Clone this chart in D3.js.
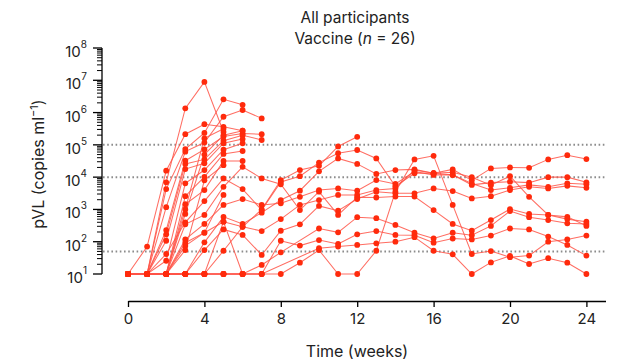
<!DOCTYPE html>
<html>
<head>
<meta charset="utf-8">
<script src="https://cdn.jsdelivr.net/npm/d3@7"></script>
<style>
  body { margin: 0; background: #fff; }
  svg { font-family: Inter, "Noto Sans", sans-serif; }
</style>
</head>
<body>
<svg id="chart" width="626" height="363"></svg>
<script>
// weeks since first vaccination
const weeks = d3.range(0, 25);

// log10 pVL (copies/ml) per participant, one value per week, null = no sample
// 10 copies/ml (1) is the detection limit
const longTerm = [
  [1,1,1,1,1,1,1,1,1,1.35,1.74,1,1,1.72,3.55,4.55,4.66,3.14,1.62,1.71,1.52,1.57,2.0,2.07,2.19],
  [1,1,1,1,1.98,2.77,2.55,2.90,3.29,3.58,4.18,4.58,4.41,4.10,4.22,4.24,4.12,4.24,3.9,4.27,4.30,4.29,4.55,4.68,4.56],
  [1,1,1,2.07,2.55,3.14,3.32,3.14,3.19,3.39,3.60,3.65,3.58,3.91,3.79,4.17,4.07,4.07,3.76,3.83,3.86,3.83,4.0,4.0,3.84],
  [1,1,1.62,2.60,3.26,3.96,3.63,2.98,3.85,4.03,4.45,4.74,4.84,4.58,3.72,4.12,4.12,4.15,4.0,3.75,4.03,3.39,2.83,2.77,2.49],
  [1,1,1,1,1.74,2.38,2.21,1.59,2.34,2.54,3.11,2.96,3.32,3.55,3.50,3.50,3.65,3.57,3.34,3.41,3.60,3.70,3.65,3.73,3.67],
  [1,1,1,2.54,2.83,3.70,4.32,3.96,3.78,2.98,3.55,2.83,3.38,3.37,3.40,3.40,2.98,2.55,2.34,2.67,3.01,2.86,2.83,2.70,2.62],
  [1,1,1,1,1,1,1,1.28,1.67,null,2.41,2.29,2.76,2.73,2.52,2.28,2.10,2.28,2.20,2.49,2.95,2.76,2.67,2.57,2.55],
  [1,1,1,1,1,1,1,1,2.03,1.88,2.05,1.93,2.23,2.33,2.21,2.20,1.97,2.10,2.07,2.19,2.41,2.38,2.16,1.90,1.57],
  [1,1,1,1,1,1,1,1,null,null,1.80,1.85,1.90,1.95,2.0,2.14,1.72,1.61,1.0,1.36,1.56,1.31,1.49,1.35,1.0],
  [1,1,1,1.87,2.28,2.62,2.46,2.33,2.70,3.14,3.29,3.45,3.45,3.60,3.65,4.22,4.12,4.07,3.80,3.60,3.67,3.76,3.70,3.81,3.78]
];

const shortTerm = [
  [1,1,1,1,1,1.72,2.46,3.0,3.91,4.22,4.35,4.95,5.25],
  [1,1.85,4.2,5.33,5.64,5.56,5.44],
  [1,1,3.84,6.13,6.95,5.4],
  [1,1,3.63,4.87,5.37,6.41,6.24],
  [1,1,3.07,4.79,5.07,5.87,6.08,5.82],
  [1,1,2.36,4.51,4.86,5.26,5.35,5.33],
  [1,1,2.23,4.41,4.55,5.13,5.30,5.15],
  [1,1,2.03,4.25,4.43,5.05,5.18],
  [1,1,1.41,3.81,4.22,4.85,5.05],
  [1,1,1,3.41,4.01,4.72,4.81],
  [1,1,1,3.16,3.60,4.50,4.50],
  [1,1,1,3.0,5.2,5.5],
  [1,1,1,2.86,4.7,5.3,5.44],
  [1,1,1,1.97,2.28,3.45],
  [1,1,1,1.74,3.9,4.37],
  [1,1,1,1,1,2.62,1]
];

const yTicks = [1e1, 1e2, 1e3, 1e4, 1e5, 1e6, 1e7, 1e8];
const xTicks = [0, 4, 8, 12, 16, 20, 24];
const thresholds = [1e5, 1e4, 50];

const svg = d3.select('#chart');

const x = d3.scaleLinear().domain([0, 25]).range([128, 605.5]);
const y = d3.scaleLog().domain([10, 1e8]).range([274, 48]);

// dotted reference lines
svg.selectAll('.thr').data(thresholds).enter().append('line')
  .attr('x1', 103).attr('x2', 606)
  .attr('y1', d => y(d)).attr('y2', d => y(d))
  .attr('stroke', '#8c8c8c').attr('stroke-width', 2)
  .attr('stroke-dasharray', '1.6,2.6');

// y axis with minor ticks
const minor = [];
for (let e = 1; e < 8; e++) for (let m = 2; m <= 9; m++) minor.push(m * Math.pow(10, e));
const yAxis = svg.append('g').attr('transform', 'translate(102,0)');
yAxis.append('line').attr('y1', y(1e8)).attr('y2', y(10)).attr('stroke', '#000').attr('stroke-width', 1.3);
yAxis.selectAll('.minor').data(minor).enter().append('line')
  .attr('x1', -5).attr('x2', 0).attr('y1', d => y(d)).attr('y2', d => y(d))
  .attr('stroke', '#000').attr('stroke-width', 1);
yAxis.selectAll('.major').data(yTicks).enter().append('line')
  .attr('x1', -9).attr('x2', 0).attr('y1', d => y(d)).attr('y2', d => y(d))
  .attr('stroke', '#000').attr('stroke-width', 1.3);
const lab = yAxis.selectAll('.lab').data(yTicks).enter().append('text')
  .attr('x', -15).attr('y', d => y(d) + 9)
  .attr('text-anchor', 'end').attr('font-size', 15).attr('fill', '#222');
lab.append('tspan').text('10');
lab.append('tspan').attr('dy', -9).attr('font-size', 10).text(d => Math.round(Math.log10(d)));

// x axis
const xAxis = svg.append('g').attr('transform', 'translate(0,301)')
  .call(d3.axisBottom(x).tickValues(xTicks).tickSize(6).tickPadding(6).tickSizeOuter(0));
xAxis.select('.domain').attr('stroke-width', 1.3);
xAxis.selectAll('.tick line').attr('stroke-width', 1.3);
xAxis.selectAll('text').attr('font-size', 15).attr('fill', '#222').attr('font-family', 'Inter, sans-serif');

// participant trajectories
const all = longTerm.concat(shortTerm).map(s => s.map((v, i) => ({ week: weeks[i], v: v })).filter(d => d.v !== null));
const line = d3.line().x(d => x(d.week)).y(d => y(Math.pow(10, d.v)));

svg.selectAll('.traj').data(all).enter().append('path')
  .attr('d', line).attr('fill', 'none')
  .attr('stroke', '#ff5346').attr('stroke-opacity', 0.85).attr('stroke-width', 1.05);

svg.selectAll('.pts').data(all).enter().append('g')
  .selectAll('circle').data(d => d).enter().append('circle')
  .attr('cx', d => x(d.week)).attr('cy', d => y(Math.pow(10, d.v)))
  .attr('r', 2.9).attr('fill', '#ff2a0c');

// titles and labels
svg.append('text').attr('x', 355).attr('y', 23).attr('text-anchor', 'middle')
  .attr('font-size', 15.5).attr('fill', '#222').text('All participants');
const t2 = svg.append('text').attr('x', 355).attr('y', 44).attr('text-anchor', 'middle')
  .attr('font-size', 15.5).attr('fill', '#222');
t2.append('tspan').text('Vaccine (');
t2.append('tspan').attr('font-style', 'italic').text('n');
t2.append('tspan').text(' = 26)');

svg.append('text').attr('x', 357).attr('y', 357).attr('text-anchor', 'middle')
  .attr('font-size', 16).attr('fill', '#222').text('Time (weeks)');

const yl = svg.append('text').attr('transform', 'translate(44,164) rotate(-90)')
  .attr('text-anchor', 'middle').attr('font-size', 16).attr('fill', '#222');
yl.append('tspan').text('pVL (copies ml');
yl.append('tspan').attr('dy', -6).attr('font-size', 11).text('−1');
yl.append('tspan').attr('dy', 6).text(')');
</script>
</body>
</html>
